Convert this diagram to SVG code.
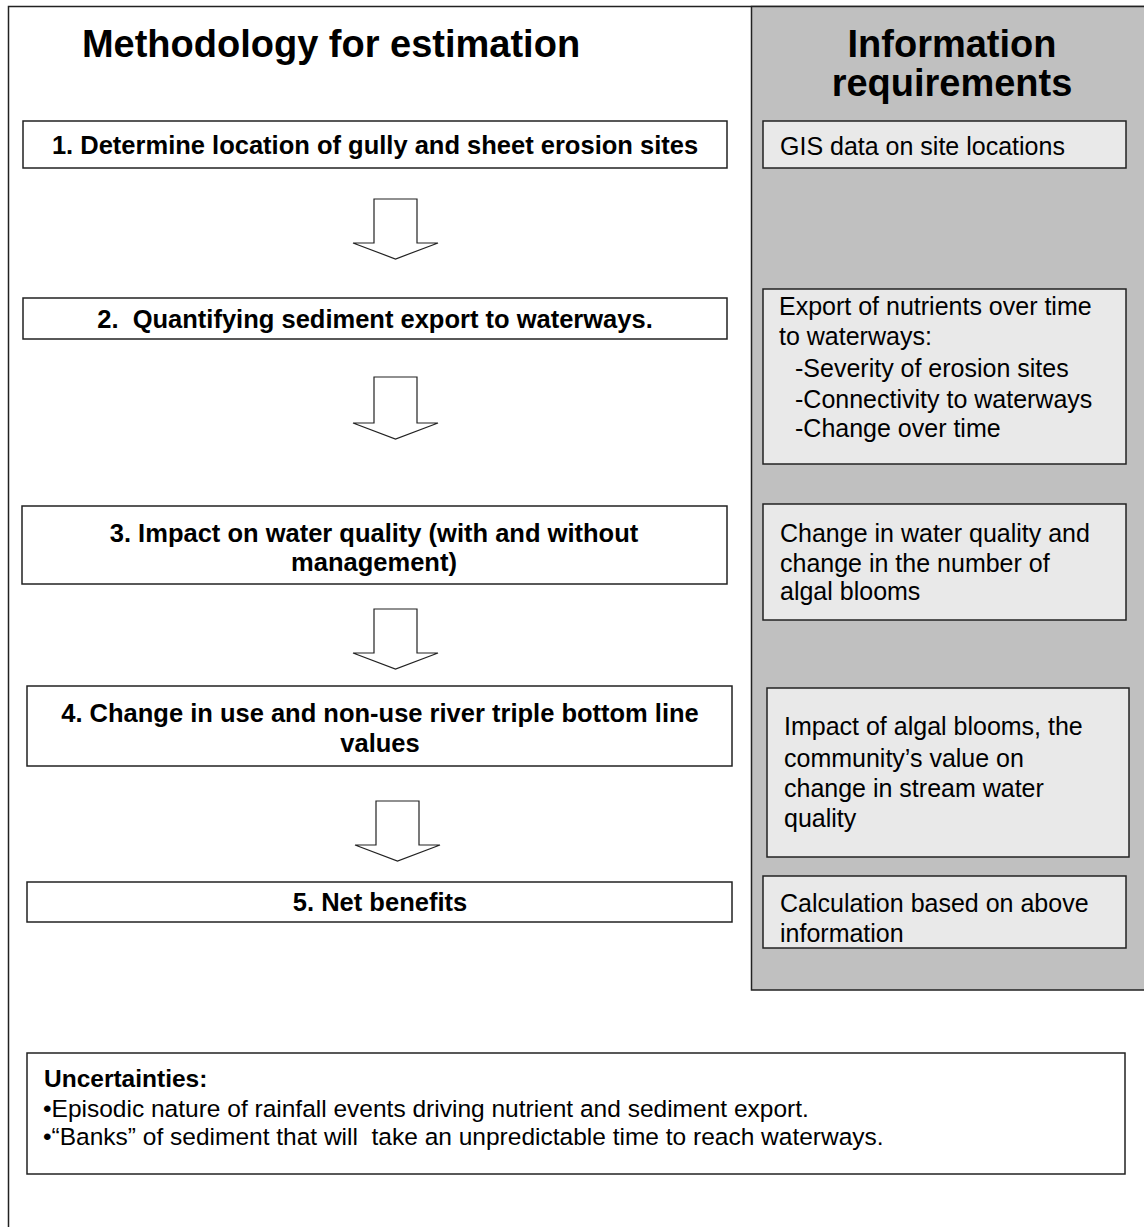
<svg xmlns="http://www.w3.org/2000/svg" width="1144" height="1227" viewBox="0 0 1144 1227">
<style>
.frame{fill:#fff;stroke:#222;stroke-width:1.5}
.panel{fill:#c0c0c0;stroke:#222;stroke-width:1.5}
.box{fill:#fff;stroke:#222;stroke-width:1.5}
.ibox{fill:#e9e9e9;stroke:#222;stroke-width:1.5}
.arrow{fill:#fff;stroke:#222;stroke-width:1.2;stroke-linejoin:miter}
.title{font-family:"Liberation Sans",Arial,sans-serif;font-weight:bold;font-size:38px;fill:#000}
.step{font-family:"Liberation Sans",Arial,sans-serif;font-weight:bold;font-size:25.5px;fill:#000;text-anchor:middle}
.info{font-family:"Liberation Sans",Arial,sans-serif;font-size:25px;fill:#000}
.unc{font-family:"Liberation Sans",Arial,sans-serif;font-size:24.5px;fill:#000}
</style>
<rect class="frame" x="8.5" y="6.5" width="1145" height="1230"/>
<rect class="panel" x="751.5" y="6.5" width="400" height="983.5"/>
<g id="title-left"><text class="title" x="331" y="57" text-anchor="middle">Methodology for estimation</text></g>
<g id="title-right"><text class="title" x="952" y="57" text-anchor="middle">Information</text><text class="title" x="952" y="96" text-anchor="middle">requirements</text></g>
<g id="step1"><rect class="box" x="23" y="121" width="704" height="47"/><text class="step" x="375" y="154">1. Determine location of gully and sheet erosion sites</text></g>
<g id="step2"><rect class="box" x="23" y="298" width="704" height="41"/><text class="step" x="375" y="328" xml:space="preserve">2.  Quantifying sediment export to waterways.</text></g>
<g id="step3"><rect class="box" x="22" y="506" width="705" height="78"/><text class="step" x="374" y="542">3. Impact on water quality (with and without</text><text class="step" x="374" y="571">management)</text></g>
<g id="step4"><rect class="box" x="27" y="686" width="705" height="80"/><text class="step" x="380" y="722">4. Change in use and non-use river triple bottom line</text><text class="step" x="380" y="752">values</text></g>
<g id="step5"><rect class="box" x="27" y="882" width="705" height="40"/><text class="step" x="380" y="911">5. Net benefits</text></g>
<g id="info1"><rect class="ibox" x="763" y="121" width="363" height="47"/><text class="info" x="780" y="155">GIS data on site locations</text></g>
<g id="info2"><rect class="ibox" x="763" y="289" width="363" height="175"/><text class="info" x="779" y="315">Export of nutrients over time</text><text class="info" x="779" y="345">to waterways:</text><text class="info" x="795" y="377">-Severity of erosion sites</text><text class="info" x="795" y="408">-Connectivity to waterways</text><text class="info" x="795" y="437">-Change over time</text></g>
<g id="info3"><rect class="ibox" x="763" y="504" width="363" height="116"/><text class="info" x="780" y="542">Change in water quality and</text><text class="info" x="780" y="572">change in the number of</text><text class="info" x="780" y="600">algal blooms</text></g>
<g id="info4"><rect class="ibox" x="767" y="688" width="362" height="169"/><text class="info" x="784" y="735">Impact of algal blooms, the</text><text class="info" x="784" y="767">community’s value on</text><text class="info" x="784" y="797">change in stream water</text><text class="info" x="784" y="827">quality</text></g>
<g id="info5"><rect class="ibox" x="763" y="876" width="363" height="72"/><text class="info" x="780" y="912">Calculation based on above</text><text class="info" x="780" y="942">information</text></g>
<g id="uncertainties"><rect class="box" x="27" y="1053" width="1098" height="121"/><text class="unc" x="44" y="1087" font-weight="bold">Uncertainties:</text><text class="unc" x="43" y="1117">•Episodic nature of rainfall events driving nutrient and sediment export.</text><text class="unc" x="43" y="1145" xml:space="preserve">•“Banks” of sediment that will  take an unpredictable time to reach waterways.</text></g>
<g id="connectors">
<polygon class="arrow" points="374,199 417,199 417,243 438,243 395.5,259 353,243 374,243"/>
<polygon class="arrow" points="374,377 417,377 417,423 438,423 395.5,439 353,423 374,423"/>
<polygon class="arrow" points="374,609 417,609 417,653 438,653 395.5,669 353,653 374,653"/>
<polygon class="arrow" points="376,801 419,801 419,845 440,845 397.5,861 355,845 376,845"/>
</g>
</svg>
